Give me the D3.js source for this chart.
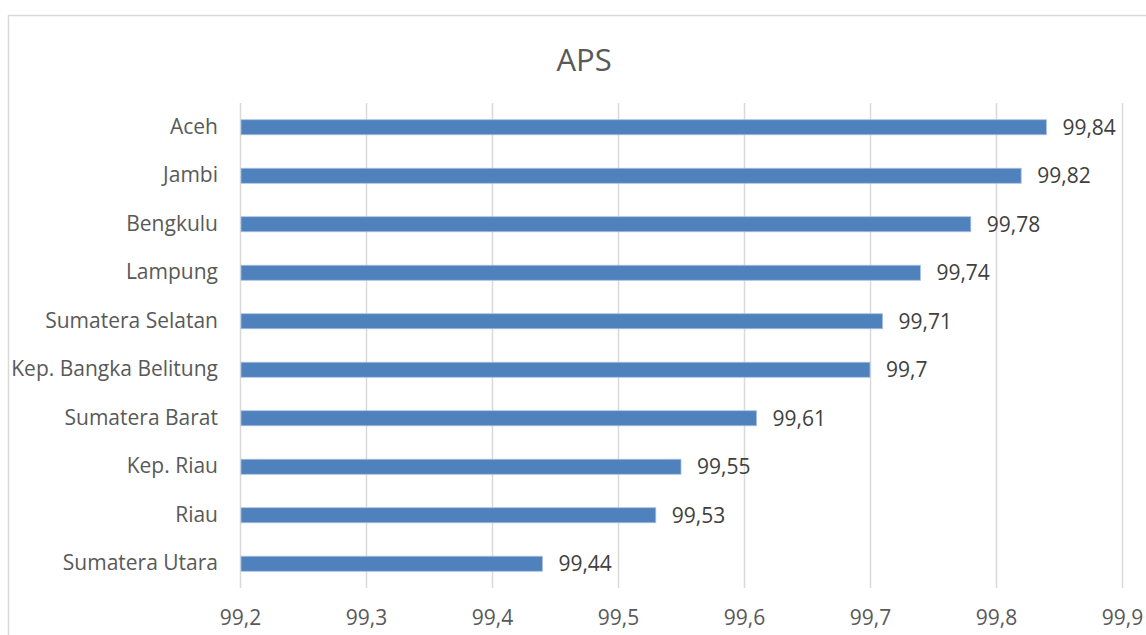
<!DOCTYPE html>
<html>
<head>
<meta charset="utf-8">
<script src="https://cdn.jsdelivr.net/npm/d3@7/dist/d3.min.js"></script>
<style>
  html, body { margin: 0; padding: 0; background: #fff; }
  svg { display: block; font-family: "Open Sans", "Noto Sans", sans-serif; }
</style>
</head>
<body>
<svg id="chart" width="1146" height="635"></svg>
<script>
// Angka Partisipasi Sekolah per provinsi
const provinces = ["Aceh", "Jambi", "Bengkulu", "Lampung", "Sumatera Selatan",
  "Kep. Bangka Belitung", "Sumatera Barat", "Kep. Riau", "Riau", "Sumatera Utara"];
const apsValues = [99.84, 99.82, 99.78, 99.74, 99.71, 99.7, 99.61, 99.55, 99.53, 99.44];
const tickValues = [99.2, 99.3, 99.4, 99.5, 99.6, 99.7, 99.8, 99.9];
const title = "APS";

const svg = d3.select("#chart");
const W = 1146, H = 635;
const plot = { left: 240, right: 1122, top: 103, bottom: 588 };
const textColor = "#595959";
const fmt = v => String(v).replace(".", ",");

// chart frame
svg.append("rect")
  .attr("x", 8.5).attr("y", 15.5)
  .attr("width", W + 10).attr("height", H + 10)
  .attr("fill", "#fff").attr("stroke", "#d9d9d9").attr("stroke-width", 1.5);

const x = d3.scaleLinear().domain([99.2, 99.9]).range([plot.left, plot.right]);
const y = d3.scaleBand().domain(provinces).range([plot.top, plot.bottom]).paddingInner(0.69).paddingOuter(0.345);

// vertical gridlines
svg.append("g").selectAll("line").data(tickValues).join("line")
  .attr("x1", d => Math.round(x(d)) + 0.5).attr("x2", d => Math.round(x(d)) + 0.5)
  .attr("y1", plot.top).attr("y2", plot.bottom)
  .attr("stroke", "#d9d9d9").attr("stroke-width", 1.5);

// x axis tick labels
const xAxis = d3.axisBottom(x).tickValues(tickValues).tickSize(0).tickPadding(0).tickFormat(fmt);
const gx = svg.append("g").attr("transform", `translate(0,${plot.bottom + 22})`).call(xAxis);
gx.select(".domain").remove();
gx.selectAll("text").attr("fill", textColor).attr("font-size", 21).attr("dy", "0.71em")
  .attr("font-family", "\"Open Sans\", sans-serif");

// y axis category labels
const yAxis = d3.axisLeft(y).tickSize(0).tickPadding(22);
const gy = svg.append("g").attr("transform", `translate(${plot.left},0)`).call(yAxis);
gy.select(".domain").remove();
gy.selectAll("text").attr("fill", textColor).attr("font-size", 21)
  .attr("font-family", "\"Open Sans\", sans-serif");

// bars
svg.append("g").selectAll("rect").data(provinces).join("rect")
  .attr("x", x(99.2) + 1)
  .attr("y", d => y(d))
  .attr("width", (d, i) => x(apsValues[i]) - x(99.2) - 1)
  .attr("height", y.bandwidth())
  .attr("fill", "#4f81bd")
  .attr("stroke", "#a9c1e2").attr("stroke-width", 0.8);

// value labels
svg.append("g").selectAll("text").data(provinces).join("text")
  .attr("x", (d, i) => x(apsValues[i]) + 16)
  .attr("y", d => y(d) + y.bandwidth() / 2)
  .attr("dy", "0.35em")
  .attr("fill", "#404040").attr("font-size", 21)
  .text((d, i) => fmt(apsValues[i]));

// title
svg.append("text")
  .attr("x", 584).attr("y", 60).attr("dy", "0.35em")
  .attr("text-anchor", "middle")
  .attr("fill", textColor).attr("font-size", 31)
  .text(title);
</script>
</body>
</html>
